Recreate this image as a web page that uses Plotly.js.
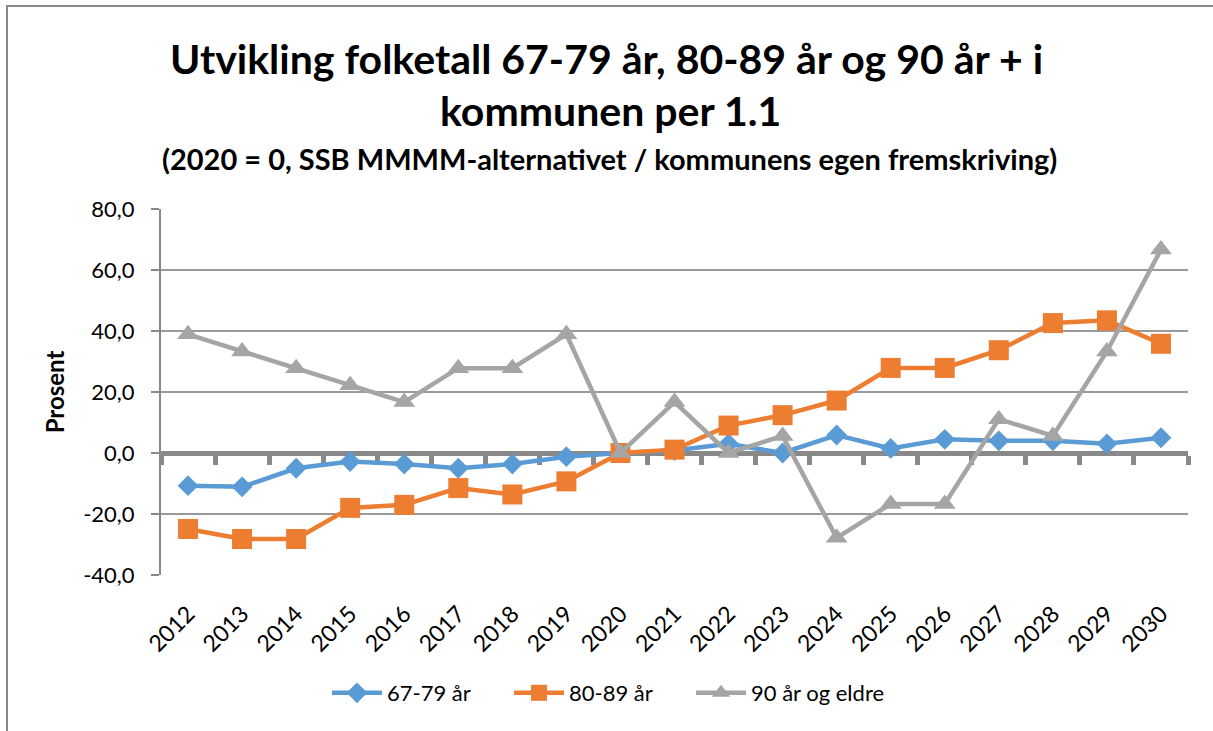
<!DOCTYPE html>
<html>
<head>
<meta charset="utf-8">
<script src="https://cdn.plot.ly/plotly-3.0.1.min.js"></script>
<style>
  html, body { margin: 0; padding: 0; background: #fff; overflow: hidden; width: 1213px; height: 731px; }
  #chart { width: 1213px; height: 731px; position: absolute; left: 0; top: 0; }
  #frame { position: absolute; left: 6px; top: 5px; width: 1250px; height: 780px;
           border-left: 2px solid #898989; border-top: 2px solid #898989; pointer-events: none; }
</style>
</head>
<body>
<div id="chart"></div>
<div id="frame"></div>
<script>
const years = ['2012','2013','2014','2015','2016','2017','2018','2019','2020','2021','2022','2023','2024','2025','2026','2027','2028','2029','2030'];
const age6779 = [-10.7, -11.1, -5.0, -2.8, -3.6, -5.0, -3.6, -1.2, 0, 0.8, 3.0, 0.0, 5.9, 1.5, 4.5, 4.0, 4.0, 3.0, 5.0];
const age8089 = [-24.9, -28.2, -28.2, -18.0, -17.0, -11.5, -13.6, -9.3, 0, 1.1, 9.0, 12.4, 17.2, 27.9, 27.9, 33.7, 42.6, 43.5, 35.8];
const age90 = [38.9, 33.3, 27.8, 22.2, 16.7, 27.8, 27.8, 38.9, 0, 16.7, 0, 5.6, -27.8, -16.7, -16.7, 11.1, 5.6, 33.3, 66.7];
const seriesNames = ['67-79 år', '80-89 år', '90 år og eldre'];
const yTicks = [-40, -20, 0, 20, 40, 60, 80];
const titleLine1 = 'Utvikling folketall 67-79 år, 80-89 år og 90 år + i';
const titleLine2 = 'kommunen per 1.1';
const subtitle = '(2020 = 0, SSB MMMM-alternativet / kommunens egen fremskriving)';

const FONT = 'Lato, "Open Sans", sans-serif';
const yMin = yTicks[0], yMax = yTicks[yTicks.length - 1];
const boundaries = years.map((_, i) => i - 0.5).concat([years.length - 0.5]);

const traces = [
  { x: years, y: age6779, name: seriesNames[0], type: 'scatter', mode: 'lines+markers', legend: 'legend',
    line: { color: '#5B9BD5', width: 4.5 }, marker: { symbol: 'diamond', size: 16, color: '#5B9BD5' } },
  { x: years, y: age8089, name: seriesNames[1], type: 'scatter', mode: 'lines+markers', legend: 'legend2',
    line: { color: '#ED7D31', width: 4.5 }, marker: { symbol: 'square', size: 20, color: '#ED7D31' } },
  { x: years, y: age90, name: seriesNames[2], type: 'scatter', mode: 'lines+markers', legend: 'legend3',
    line: { color: '#A5A5A5', width: 4.5 }, marker: { symbol: 'triangle-up', size: 19, color: '#A5A5A5' } },
  // invisible helper so that the category-axis line at y = 0 (with boundary ticks) is drawn
  { x: [boundaries[0], boundaries[boundaries.length - 1]], y: [0, 0], xaxis: 'x2', yaxis: 'y',
    type: 'scatter', mode: 'none', showlegend: false, hoverinfo: 'skip' }
];

const pxToPaperY = Y => (575 - Y) / 366;
const pxToPaperX = X => (X - 161) / 1027;

const legendAt = x => ({
  orientation: 'h', x: x / 1213, xanchor: 'left', xref: 'container',
  y: 1 - 693 / 731, yanchor: 'middle', yref: 'container',
  font: { family: FONT, size: 22, color: '#000' },
  itemwidth: 50, bgcolor: 'rgba(0,0,0,0)'
});

const layout = {
  width: 1213, height: 731,
  margin: { l: 161, r: 25, t: 209, b: 156 },
  paper_bgcolor: 'rgba(0,0,0,0)', plot_bgcolor: 'rgba(0,0,0,0)',
  separators: ', ',
  font: { family: FONT, color: '#000' },
  title: {
    text: '<b>' + titleLine1 + '</b>',
    font: { family: FONT, size: 41, color: '#000' },
    x: 0.5, xanchor: 'center', xref: 'container',
    y: 1 - 60 / 731, yanchor: 'middle', yref: 'container'
  },
  annotations: [{
    text: '<b>' + titleLine2 + '</b>',
    xref: 'paper', yref: 'paper', x: pxToPaperX(610), y: pxToPaperY(110), xanchor: 'center', yanchor: 'middle',
    showarrow: false, font: { family: FONT, size: 41, color: '#000' }
  }, {
    text: '<b>' + subtitle + '</b>',
    xref: 'paper', yref: 'paper', x: pxToPaperX(609), y: pxToPaperY(158), xanchor: 'center', yanchor: 'middle',
    showarrow: false, font: { family: FONT, size: 29, color: '#000' }
  }],
  xaxis: {
    type: 'category', categoryarray: years, range: [-0.5, years.length - 0.5],
    showgrid: false, showline: false, zeroline: false, ticks: '',
    tickangle: -45, ticklabelstandoff: 20,
    tickfont: { family: FONT, size: 23, color: '#000' }
  },
  xaxis2: {
    overlaying: 'x', anchor: 'free', position: (0 - yMin) / (yMax - yMin),
    type: 'linear', range: [-0.5, years.length - 0.5],
    tickmode: 'array', tickvals: boundaries,
    showticklabels: false, ticks: 'outside', ticklen: 9, tickwidth: 5, tickcolor: '#898989',
    showline: true, linecolor: '#898989', linewidth: 5, showgrid: false, zeroline: false,
    layer: 'below traces'
  },
  yaxis: {
    range: [yMin, yMax], tickmode: 'array', tickvals: yTicks,
    ticktext: yTicks.map(v => v.toFixed(1).replace('.', ',')),
    showgrid: true, gridcolor: '#9a9a9a', gridwidth: 1.5,
    showline: true, linecolor: '#898989', linewidth: 2,
    ticks: 'outside', ticklen: 8, tickcolor: '#898989', tickwidth: 1.5,
    zeroline: false,
    tickfont: { family: FONT, size: 22, color: '#000' },
    ticklabelstandoff: 12,
    title: { text: '<b>Prosent</b>', font: { family: FONT, size: 24, color: '#000' }, standoff: 12 }
  },
  legend: legendAt(327),
  legend2: legendAt(509),
  legend3: legendAt(691),
  showlegend: true
};

Plotly.newPlot('chart', traces, layout, { displayModeBar: false, staticPlot: true });
</script>
</body>
</html>
